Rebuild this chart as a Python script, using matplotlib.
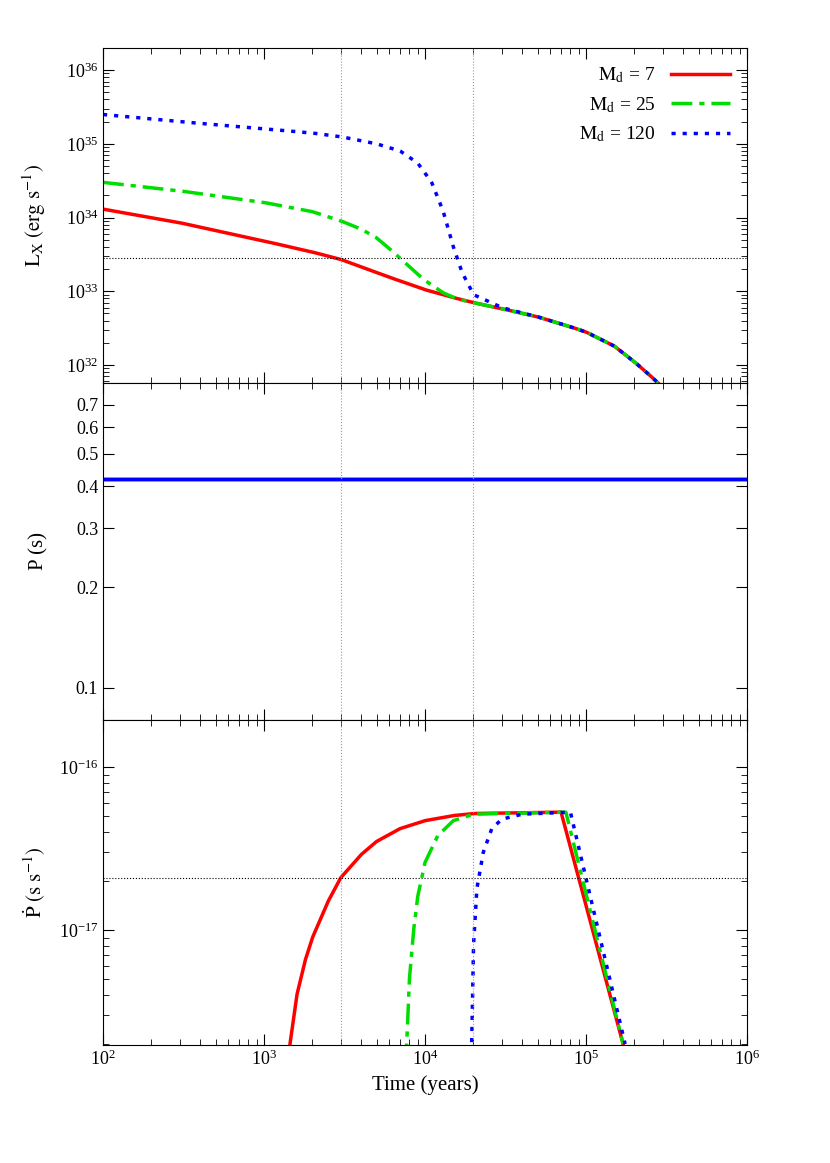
import matplotlib
matplotlib.use("Agg")
import matplotlib.pyplot as plt
import numpy as np

plt.rcParams["font.family"] = "Liberation Serif"
plt.rcParams["mathtext.fontset"] = "stix"

t_red_L = [100, 300, 1000, 2000, 3000, 4000, 6000, 10000, 15000, 20000, 30000, 50000, 80000, 100000, 150000, 200000, 250000, 280000]
L_red = [1.3e34, 8.5e33, 4.8e33, 3.4e33, 2.7e33, 2.15e33, 1.55e33, 1.05e33, 8.2e32, 7.0e32, 5.8e32, 4.5e32, 3.3e32, 2.8e32, 1.8e32, 1.1e32, 7.2e31, 5.7e31]
t_grn_L = [100, 300, 1000, 2000, 3000, 4000, 5000, 6000, 7000, 8500, 10000, 13000, 16000, 20000, 30000, 50000, 80000, 100000, 150000, 200000, 250000, 280000]
L_grn = [3.0e34, 2.3e34, 1.6e34, 1.2e34, 9.0e33, 7.0e33, 5.3e33, 3.8e33, 2.8e33, 1.9e33, 1.4e33, 9.5e32, 7.8e32, 7.0e32, 5.8e32, 4.5e32, 3.3e32, 2.8e32, 1.8e32, 1.1e32, 7.2e31, 5.7e31]
t_blu_L = [100, 300, 1000, 2000, 3000, 4000, 5000, 7000, 9000, 11000, 13000, 15000, 17000, 20000, 25000, 30000, 50000, 80000, 100000, 150000, 200000, 250000, 280000]
L_blu = [2.5e35, 2.0e35, 1.6e35, 1.4e35, 1.25e35, 1.1e35, 1.0e35, 8.0e34, 5.5e34, 3.0e34, 1.2e34, 4.0e33, 1.8e33, 9.0e32, 7.2e32, 6.0e32, 4.5e32, 3.3e32, 2.8e32, 1.8e32, 1.1e32, 7.2e31, 5.7e31]

t_P = [100, 1e6]
P_val = [0.42, 0.42]

t_red_Pd = [1400, 1450, 1600, 1800, 2000, 2500, 3000, 4000, 5000, 7000, 10000, 15000, 20000, 70000, 170000]
Pd_red = [1.5e-18, 2.0e-18, 4.0e-18, 6.5e-18, 9.0e-18, 1.5e-17, 2.1e-17, 2.9e-17, 3.5e-17, 4.2e-17, 4.7e-17, 5.05e-17, 5.2e-17, 5.3e-17, 2.0e-18]
t_grn_Pd = [7600, 7700, 8000, 8500, 9000, 10000, 12000, 15000, 20000, 75000, 170000]
Pd_grn = [1.5e-18, 2.0e-18, 5.0e-18, 1.0e-17, 1.6e-17, 2.6e-17, 3.8e-17, 4.7e-17, 5.15e-17, 5.3e-17, 2.0e-18]
t_blu_Pd = [19300, 19500, 20000, 21000, 23000, 26000, 30000, 40000, 80000, 175000]
Pd_blu = [1.5e-18, 2.0e-18, 8.0e-18, 1.8e-17, 3.0e-17, 4.2e-17, 4.8e-17, 5.15e-17, 5.3e-17, 2.0e-18]

labels = [r"$\mathrm{M_d}$ = 7", r"$\mathrm{M_d}$ = 25", r"$\mathrm{M_d}$ = 120"]
vlines = [3000, 20000]

def interp_log(t, y):
    tt = np.logspace(np.log10(t[0]), np.log10(t[-1]), 600)
    return tt, 10 ** np.interp(np.log10(tt), np.log10(t), np.log10(y))

fig = plt.figure(figsize=(8.30, 11.63), dpi=100)
W, H = 830, 1163
def ax_at(x0, y0, x1, y1):
    return fig.add_axes([x0 / W, 1 - y1 / H, (x1 - x0) / W, (y1 - y0) / H])
ax1 = ax_at(103, 48, 747, 383)
ax2 = ax_at(103, 383, 747, 720)
ax3 = ax_at(103, 720, 747, 1045)

styles = [dict(color="#ff0000", lw=2.5, ls="-"),
          dict(color="#00dd00", lw=2.5, ls=(0, (6, 2, 1.5, 2))),
          dict(color="#0000ff", lw=2.5, ls=(0, (1.2, 2)))]

for (t, y), st, lab in zip([(t_red_L, L_red), (t_grn_L, L_grn), (t_blu_L, L_blu)], styles, labels):
    ax1.plot(*interp_log(t, y), label=lab, **st)
ax2.plot(t_P, P_val, color="#ff0000", lw=2.5)
ax2.plot(t_P, P_val, color="#00dd00", lw=2.5)
ax2.plot(t_P, P_val, color="#0000ff", lw=2.5)
for (t, y), st in zip([(t_red_Pd, Pd_red), (t_grn_Pd, Pd_grn), (t_blu_Pd, Pd_blu)], styles):
    ax3.plot(*interp_log(t, y), **st)

ax1.axhline(2.8e33, color="k", ls=":", lw=0.8)
ax3.axhline(2.1e-17, color="k", ls=":", lw=0.8)

for ax in (ax1, ax2, ax3):
    ax.set_xscale("log")
    ax.set_yscale("log")
    ax.set_xlim(100, 1e6)
    for v in vlines:
        ax.axvline(v, color="#999999", ls=":", lw=0.8)
    ax.tick_params(which="both", direction="in", top=True, right=True, labelsize=13)
    ax.tick_params(which="major", length=8)
    ax.tick_params(which="minor", length=4)

ax1.set_ylim(10 ** 31.755, 10 ** 36.3)
ax2.set_ylim(0.0802, 0.813)
ax3.set_ylim(10 ** -17.705, 10 ** -15.71)
ax1.tick_params(labelbottom=False)
ax2.tick_params(labelbottom=False)

ax2.set_yticks([0.1, 0.2, 0.3, 0.4, 0.5, 0.6, 0.7])
ax2.set_yticklabels(["0.1", "0.2", "0.3", "0.4", "0.5", "0.6", "0.7"])
ax2.yaxis.set_minor_locator(matplotlib.ticker.NullLocator())

ax1.set_ylabel(r"$\mathrm{L_X\ (erg\ s^{-1})}$", fontsize=15)
ax2.set_ylabel("P (s)", fontsize=15)
ax3.set_ylabel(r"$\mathrm{\dot{P}\ (s\ s^{-1})}$", fontsize=15)
ax3.set_xlabel("Time (years)", fontsize=15)
for ax in (ax1, ax2, ax3):
    ax.yaxis.set_label_coords(-0.085, 0.5)

ax1.legend(loc="upper right", frameon=False, fontsize=14, markerfirst=False, handlelength=3)

fig.savefig("out.png", dpi=100)
